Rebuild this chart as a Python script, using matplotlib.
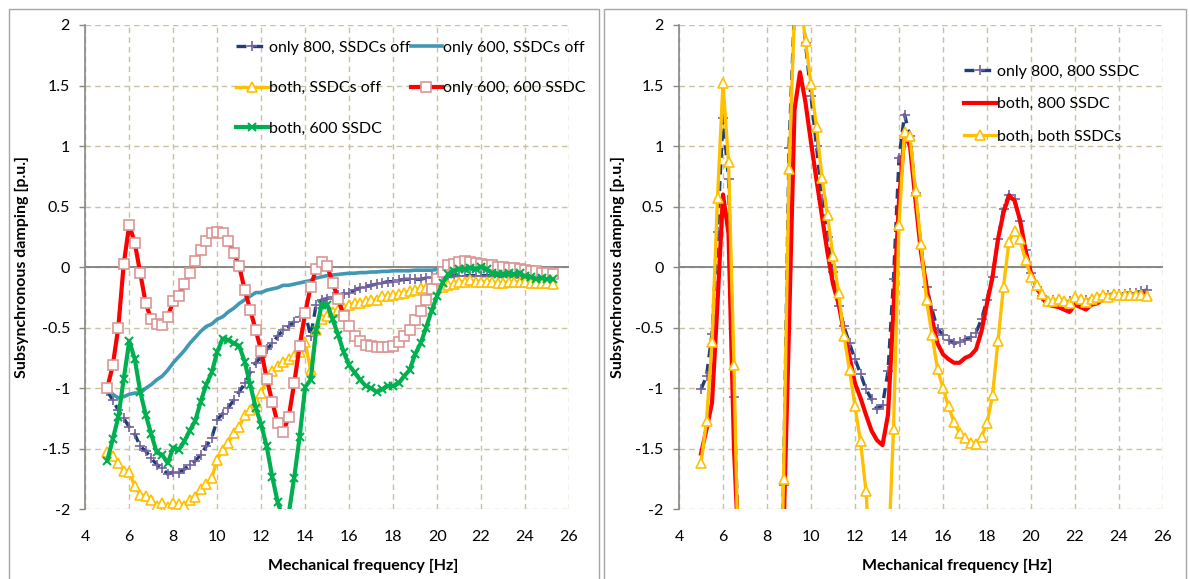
import numpy as np
import matplotlib
matplotlib.use('Agg')
import matplotlib.pyplot as plt
from matplotlib.patches import Rectangle

plt.rcParams['font.family'] = ['Lato', 'DejaVu Sans']
plt.rcParams['axes.unicode_minus'] = False

# ---------------- data ----------------
freq = np.arange(5.0, 25.26, 0.25)          # mechanical frequency [Hz]

x_ticks = [4, 6, 8, 10, 12, 14, 16, 18, 20, 22, 24, 26]
y_ticks = [-2, -1.5, -1, -0.5, 0, 0.5, 1, 1.5, 2]
y_tick_labels = ['-2', '-1.5', '-1', '-0.5', '0', '0.5', '1', '1.5', '2']

# left chart
L_only800_off = [
    -1.02, -1.10, -1.18, -1.25, -1.32, -1.38, -1.48, -1.52,
    -1.58, -1.63, -1.66, -1.71, -1.69, -1.70, -1.67, -1.63,
    -1.60, -1.55, -1.48, -1.41, -1.26, -1.21, -1.16, -1.10,
    -1.03, -0.96, -0.87, -0.79, -0.74, -0.68, -0.63, -0.57,
    -0.52, -0.49, -0.45, -0.41, -0.38, -0.57, -0.31, -0.27,
    -0.26, -0.25, -0.23, -0.22, -0.21, -0.19, -0.17, -0.16,
    -0.15, -0.14, -0.13, -0.12, -0.12, -0.11, -0.10, -0.10,
    -0.10, -0.10, -0.09, -0.08, -0.08, -0.08, -0.08, -0.07,
    -0.07, -0.07, -0.07, -0.07, -0.07, -0.07, -0.07, -0.07,
    -0.07, -0.07, -0.08, -0.08, -0.08, -0.08, -0.08, -0.08,
    -0.08, -0.08]
L_only600_off = [
    -1.00, -1.05, -1.08, -1.07, -1.05, -1.04, -1.04, -1.00,
    -0.97, -0.93, -0.90, -0.85, -0.79, -0.74, -0.69, -0.63,
    -0.58, -0.53, -0.49, -0.47, -0.43, -0.41, -0.37, -0.34,
    -0.30, -0.27, -0.24, -0.21, -0.21, -0.19, -0.18, -0.17,
    -0.15, -0.15, -0.14, -0.13, -0.12, -0.11, -0.09, -0.08,
    -0.07, -0.065, -0.06, -0.055, -0.05, -0.05, -0.045, -0.045,
    -0.04, -0.04, -0.035, -0.035, -0.03, -0.03, -0.03, -0.03,
    -0.025, -0.025, -0.025, -0.025, -0.02, -0.02, -0.015, -0.015,
    -0.015, -0.015, -0.015, -0.015, -0.015]
L_both_off = [
    -1.53, -1.56, -1.62, -1.68, -1.69, -1.81, -1.88, -1.89,
    -1.92, -1.97, -1.95, -1.98, -1.95, -1.96, -1.97, -1.92,
    -1.90, -1.83, -1.79, -1.74, -1.59, -1.51, -1.45, -1.37,
    -1.32, -1.22, -1.18, -1.11, -1.04, -0.93, -0.86, -0.82,
    -0.78, -0.76, -0.73, -0.70, -0.62, -0.85, -0.52, -0.43,
    -0.40, -0.37, -0.35, -0.34, -0.31, -0.30, -0.30, -0.28,
    -0.27, -0.27, -0.24, -0.24, -0.23, -0.22, -0.21, -0.20,
    -0.19, -0.17, -0.17, -0.16, -0.16, -0.16, -0.15, -0.14,
    -0.12, -0.12, -0.11, -0.12, -0.12, -0.12, -0.12, -0.13,
    -0.13, -0.12, -0.12, -0.12, -0.12, -0.13, -0.13, -0.13,
    -0.13, -0.14]
L_only600_600 = [
    -1.00, -0.81, -0.50, 0.03, 0.35, 0.20, -0.05, -0.30,
    -0.43, -0.47, -0.48, -0.41, -0.28, -0.24, -0.14, -0.05,
    0.05, 0.14, 0.22, 0.28, 0.29, 0.28, 0.22, 0.12,
    0.01, -0.19, -0.35, -0.52, -0.69, -0.92, -1.11, -1.29,
    -1.36, -1.24, -0.96, -0.65, -0.38, -0.16, -0.015, 0.04,
    0.01, -0.13, -0.26, -0.40, -0.49, -0.57, -0.61, -0.64,
    -0.65, -0.66, -0.66, -0.66, -0.65, -0.62, -0.57, -0.52,
    -0.44, -0.36, -0.27, -0.18, -0.10, -0.04, 0.02, 0.03,
    0.04, 0.05, 0.04, 0.035, 0.03, 0.02, 0.015, 0.005,
    0.0, -0.005, -0.01, -0.015, -0.02, -0.03, -0.035, -0.045,
    -0.05, -0.055]
L_both_600 = [
    -1.60, -1.42, -1.24, -0.92, -0.61, -0.76, -1.03, -1.22,
    -1.38, -1.53, -1.55, -1.62, -1.49, -1.51, -1.44, -1.35,
    -1.27, -1.11, -0.97, -0.87, -0.70, -0.59, -0.60, -0.63,
    -0.65, -0.78, -0.97, -1.16, -1.30, -1.48, -1.73, -1.94,
    -2.08, -2.04, -1.74, -1.40, -0.99, -0.93, -0.52, -0.31,
    -0.31, -0.43, -0.56, -0.70, -0.81, -0.87, -0.93, -0.98,
    -1.00, -1.03, -1.01, -0.98, -0.98, -0.96, -0.90, -0.85,
    -0.72, -0.63, -0.50, -0.36, -0.24, -0.13, -0.06, -0.03,
    -0.015, -0.015, -0.005, -0.015, 0.005, -0.015, -0.05, -0.055,
    -0.06, -0.05, -0.06, -0.05, -0.075, -0.08, -0.10, -0.09,
    -0.10, -0.10]

# right chart
R_only800_800 = [
    -1.01, -0.90, -0.55, 0.29, 1.23, 0.73, -1.07, -2.6,
    -4.0, -4.5, -4.5, -4.5, -4.5, -4.2, -3.8, -1.80,
    0.98, 2.15, 2.30, 1.85, 1.41, 1.00, 0.56, 0.25,
    -0.04, -0.32, -0.49, -0.63, -0.76, -0.88, -1.01, -1.09,
    -1.17, -1.14, -0.86, -0.10, 0.90, 1.26, 1.08, 0.61,
    0.17, -0.16, -0.35, -0.51, -0.56, -0.60, -0.63, -0.62,
    -0.60, -0.58, -0.54, -0.43, -0.27, -0.08, 0.23, 0.48,
    0.60, 0.56, 0.38, 0.14, -0.05, -0.16, -0.24, -0.28,
    -0.27, -0.27, -0.28, -0.28, -0.26, -0.27, -0.27, -0.26,
    -0.25, -0.23, -0.23, -0.22, -0.22, -0.22, -0.21, -0.21,
    -0.20, -0.19]
R_both_800 = [
    -1.54, -1.34, -1.12, -0.30, 0.60, 0.28, -1.50, -2.5,
    -4.0, -4.5, -4.5, -4.5, -4.5, -4.2, -4.0, -2.2,
    -0.50, 1.30, 1.61, 1.36, 1.03, 0.72, 0.42, 0.12,
    -0.14, -0.30, -0.54, -0.74, -0.96, -1.08, -1.22, -1.35,
    -1.43, -1.47, -1.22, -0.35, 0.55, 1.10, 1.00, 0.55,
    0.12, -0.16, -0.43, -0.63, -0.72, -0.76, -0.79, -0.79,
    -0.75, -0.73, -0.68, -0.53, -0.30, -0.08, 0.23, 0.45,
    0.59, 0.55, 0.39, 0.14, -0.05, -0.16, -0.25, -0.31,
    -0.32, -0.33, -0.35, -0.37, -0.31, -0.33, -0.35, -0.31,
    -0.30, -0.27, -0.26, -0.25, -0.24, -0.24, -0.24, -0.23,
    -0.23, -0.22]
R_both_both = [
    -1.62, -1.27, -0.62, 0.57, 1.52, 0.87, -0.81, -2.94,
    -4.0, -4.5, -4.5, -4.5, -4.5, -4.2, -3.83, -1.75,
    0.81, 2.10, 2.25, 1.87, 1.51, 1.16, 0.74, 0.43,
    0.09, -0.21, -0.57, -0.85, -1.15, -1.44, -1.85, -2.6,
    -2.8, -2.7, -2.44, -1.34, 0.35, 1.12, 1.08, 0.63,
    0.19, -0.27, -0.56, -0.84, -1.00, -1.15, -1.28, -1.37,
    -1.41, -1.45, -1.46, -1.40, -1.29, -1.06, -0.61, -0.16,
    0.21, 0.30, 0.23, 0.06, -0.08, -0.15, -0.22, -0.28,
    -0.28, -0.26, -0.28, -0.30, -0.25, -0.26, -0.29, -0.26,
    -0.25, -0.23, -0.25, -0.22, -0.23, -0.23, -0.23, -0.23,
    -0.23, -0.24]

# ---------------- styling ----------------
W, H = 1189, 579
fig = plt.figure(figsize=(W / 100, H / 100), dpi=100)

NAVY = '#1F3F78'
PLUS = '#7462A0'
TEAL = '#4198B4'
YEL = '#FFC000'
RED = '#FF0000'
PINK = '#D99694'
GRN = '#00B050'
GRID = '#C9C29E'
AX = '#878787'
FS = 11.5


def setup(ax):
    ax.set_xlim(4, 26)
    ax.set_ylim(-2, 2)
    ax.set_xticks(x_ticks)
    ax.set_xticklabels([str(t) for t in x_ticks])
    ax.set_yticks(y_ticks)
    ax.set_yticklabels(y_tick_labels)
    ax.grid(True, color=GRID, linestyle=(0, (4, 3)), linewidth=1.0)
    ax.set_axisbelow(True)
    for s in ['top', 'right', 'bottom']:
        ax.spines[s].set_visible(False)
    ax.spines['left'].set_color(AX)
    ax.spines['left'].set_linewidth(1.2)
    ax.axhline(0, color=AX, lw=1.4, zorder=1.5)
    ax.tick_params(axis='x', length=0, pad=15, labelsize=FS, colors='black')
    ax.tick_params(axis='y', length=4, width=1, color=AX, pad=7,
                   labelsize=FS, labelcolor='black')


def axrect(x0, x1):
    return [x0 / W, (H - 509.3) / H, (x1 - x0) / W, (509.3 - 25) / H]


axL = fig.add_axes(axrect(85.3, 569))
axR = fig.add_axes(axrect(679, 1163))
setup(axL)
setup(axR)

# left chart series
l1, = axL.plot(freq, L_only800_off, color=NAVY, lw=2.4, dashes=(3, 2),
               marker='+', ms=7, mec=PLUS, mew=1.2, label='only 800, SSDCs off')
l2, = axL.plot(freq[:len(L_only600_off)], L_only600_off, color=TEAL, lw=2.6,
               label='only 600, SSDCs off')
l3, = axL.plot(freq, L_both_off, color=YEL, lw=2.4, marker='^', ms=7,
               mfc='white', mec=YEL, mew=1.2, label='both, SSDCs off')
l4, = axL.plot(freq, L_only600_600, color=RED, lw=3, marker='s', ms=7,
               mfc='white', mec=PINK, mew=1.2, label='only 600, 600 SSDC')
l5, = axL.plot(freq, L_both_600, color=GRN, lw=3, marker='x', ms=5.5,
               mec=GRN, mew=1.5, label='both, 600 SSDC')

axL.legend(handles=[l1, l3, l5, l2, l4], ncol=2, frameon=False,
           loc='upper left', bbox_to_anchor=((230 - 85.3) / 483.7, 1 - (34 - 25) / 484.3),
           fontsize=FS, handlelength=1.95, handletextpad=0.1,
           labelspacing=1.65, columnspacing=0.0, borderaxespad=0)

# right chart series
r1, = axR.plot(freq, R_only800_800, color=NAVY, lw=2.4, dashes=(3, 2),
               marker='+', ms=7, mec=PLUS, mew=1.2, label='only 800, 800 SSDC')
r2, = axR.plot(freq, R_both_800, color=RED, lw=3, label='both, 800 SSDC')
r3, = axR.plot(freq, R_both_both, color=YEL, lw=2.4, marker='^', ms=7,
               mfc='white', mec=YEL, mew=1.2, label='both, both SSDCs')

axR.legend(handles=[r1, r2, r3], frameon=False, loc='upper left',
           bbox_to_anchor=((958 - 679) / 484, 1 - (58 - 25) / 484.3),
           fontsize=FS, handlelength=1.95, handletextpad=0.1,
           labelspacing=1.15, borderaxespad=0)

# axis titles
for cx in (363, 957):
    fig.text(cx / W, 1 - 566 / H, 'Mechanical frequency [Hz]', ha='center',
             va='center', fontsize=FS, fontweight='bold')
for cx in (22, 618):
    fig.text(cx / W, 1 - 267 / H, 'Subsynchronous damping [p.u.]', ha='center',
             va='center', rotation=90, fontsize=FS, fontweight='bold')

# chart frames
for x0, x1 in ((8.5, 598.5), (603.5, 1186)):
    fig.add_artist(Rectangle((x0 / W, -0.05), (x1 - x0) / W, 1.05 - 8.5 / H,
                             transform=fig.transFigure, fill=False,
                             edgecolor='#A6A6A6', lw=1))

fig.savefig('out.png', dpi=100)
